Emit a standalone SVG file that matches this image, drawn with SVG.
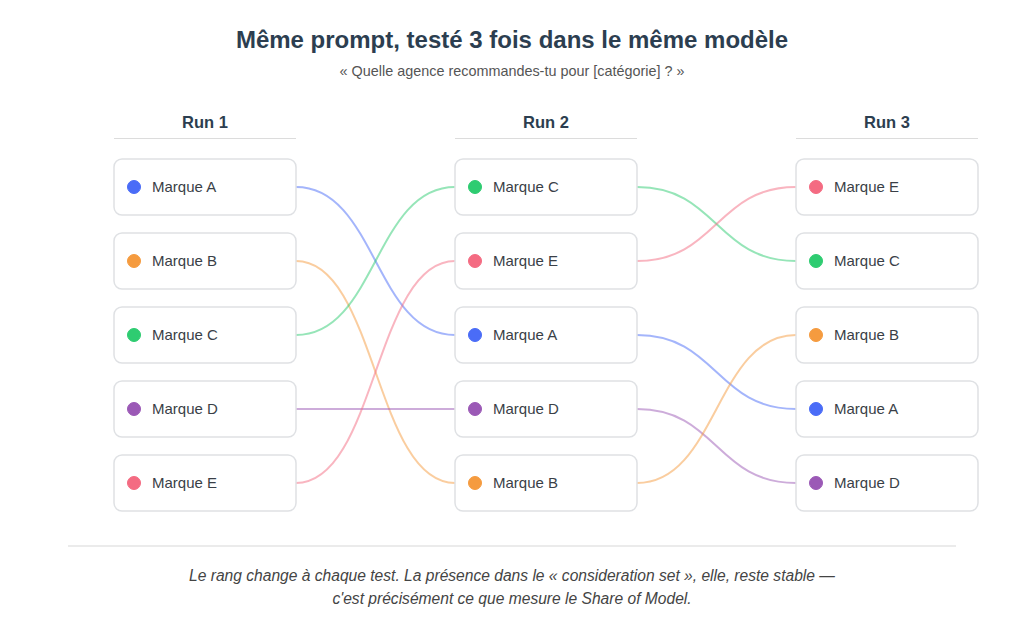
<svg xmlns="http://www.w3.org/2000/svg" width="1024" height="637" viewBox="0 0 1024 637">
<style>
text{font-family:"Liberation Sans",Arial,sans-serif}
.title{font-size:24px;font-weight:bold;fill:#2c3e50;text-anchor:middle}
.sub{font-size:14.4px;fill:#555;text-anchor:middle}
.hdr{font-size:16.5px;font-weight:bold;fill:#2c3e50;text-anchor:middle}
.hl{stroke:#dcdcdc;stroke-width:1.2}
.box{fill:#fff;stroke:#dfe1e4;stroke-width:1.5}
.lbl{font-size:15px;fill:#3a3f47}
.cap{font-size:15.6px;font-style:italic;fill:#444;text-anchor:middle}
.c{fill:none;stroke-width:2;stroke-opacity:0.5}
.a{stroke:#4a6cf7;fill:#4a6cf7}.b{stroke:#f59b3f;fill:#f59b3f}.cc{stroke:#2ecc71;fill:#2ecc71}.d{stroke:#9b59b6;fill:#9b59b6}.e{stroke:#f46b82;fill:#f46b82}
</style>
<rect width="1024" height="637" fill="#fff"/>
<text class="title" x="512" y="48">Même prompt, testé 3 fois dans le même modèle</text>
<text class="sub" x="512" y="76">« Quelle agence recommandes-tu pour [catégorie] ? »</text>
<g id="headers">
<text class="hdr" x="205" y="128">Run 1</text><line class="hl" x1="114" y1="138.5" x2="296" y2="138.5"/>
<text class="hdr" x="546" y="128">Run 2</text><line class="hl" x1="455" y1="138.5" x2="637" y2="138.5"/>
<text class="hdr" x="887" y="128">Run 3</text><line class="hl" x1="796" y1="138.5" x2="978" y2="138.5"/>
</g>
<g id="connectors">
<path class="c a" style="fill:none" d="M296 187 C376 187 375 335 455 335"/>
<path class="c b" style="fill:none" d="M296 261 C376 261 375 483 455 483"/>
<path class="c cc" style="fill:none" d="M296 335 C376 335 375 187 455 187"/>
<path class="c d" style="fill:none" d="M296 409 L455 409"/>
<path class="c e" style="fill:none" d="M296 483 C376 483 375 261 455 261"/>
<path class="c cc" style="fill:none" d="M637 187 C717 187 716 261 796 261"/>
<path class="c e" style="fill:none" d="M637 261 C717 261 716 187 796 187"/>
<path class="c a" style="fill:none" d="M637 335 C717 335 716 409 796 409"/>
<path class="c d" style="fill:none" d="M637 409 C717 409 716 483 796 483"/>
<path class="c b" style="fill:none" d="M637 483 C717 483 716 335 796 335"/>
</g>
<g id="r1-a"><rect class="box" x="114" y="159" width="182" height="56" rx="8"/><circle class="a" cx="134" cy="187" r="6.5"/><text class="lbl" x="152" y="192">Marque A</text></g>
<g id="r1-b"><rect class="box" x="114" y="233" width="182" height="56" rx="8"/><circle class="b" cx="134" cy="261" r="6.5"/><text class="lbl" x="152" y="266">Marque B</text></g>
<g id="r1-c"><rect class="box" x="114" y="307" width="182" height="56" rx="8"/><circle class="cc" cx="134" cy="335" r="6.5"/><text class="lbl" x="152" y="340">Marque C</text></g>
<g id="r1-d"><rect class="box" x="114" y="381" width="182" height="56" rx="8"/><circle class="d" cx="134" cy="409" r="6.5"/><text class="lbl" x="152" y="414">Marque D</text></g>
<g id="r1-e"><rect class="box" x="114" y="455" width="182" height="56" rx="8"/><circle class="e" cx="134" cy="483" r="6.5"/><text class="lbl" x="152" y="488">Marque E</text></g>
<g id="r2-c"><rect class="box" x="455" y="159" width="182" height="56" rx="8"/><circle class="cc" cx="475" cy="187" r="6.5"/><text class="lbl" x="493" y="192">Marque C</text></g>
<g id="r2-e"><rect class="box" x="455" y="233" width="182" height="56" rx="8"/><circle class="e" cx="475" cy="261" r="6.5"/><text class="lbl" x="493" y="266">Marque E</text></g>
<g id="r2-a"><rect class="box" x="455" y="307" width="182" height="56" rx="8"/><circle class="a" cx="475" cy="335" r="6.5"/><text class="lbl" x="493" y="340">Marque A</text></g>
<g id="r2-d"><rect class="box" x="455" y="381" width="182" height="56" rx="8"/><circle class="d" cx="475" cy="409" r="6.5"/><text class="lbl" x="493" y="414">Marque D</text></g>
<g id="r2-b"><rect class="box" x="455" y="455" width="182" height="56" rx="8"/><circle class="b" cx="475" cy="483" r="6.5"/><text class="lbl" x="493" y="488">Marque B</text></g>
<g id="r3-e"><rect class="box" x="796" y="159" width="182" height="56" rx="8"/><circle class="e" cx="816" cy="187" r="6.5"/><text class="lbl" x="834" y="192">Marque E</text></g>
<g id="r3-c"><rect class="box" x="796" y="233" width="182" height="56" rx="8"/><circle class="cc" cx="816" cy="261" r="6.5"/><text class="lbl" x="834" y="266">Marque C</text></g>
<g id="r3-b"><rect class="box" x="796" y="307" width="182" height="56" rx="8"/><circle class="b" cx="816" cy="335" r="6.5"/><text class="lbl" x="834" y="340">Marque B</text></g>
<g id="r3-a"><rect class="box" x="796" y="381" width="182" height="56" rx="8"/><circle class="a" cx="816" cy="409" r="6.5"/><text class="lbl" x="834" y="414">Marque A</text></g>
<g id="r3-d"><rect class="box" x="796" y="455" width="182" height="56" rx="8"/><circle class="d" cx="816" cy="483" r="6.5"/><text class="lbl" x="834" y="488">Marque D</text></g>
<line x1="68" y1="546" x2="956" y2="546" stroke="#e4e4e4" stroke-width="1.5"/>
<text class="cap" x="512" y="581">Le rang change à chaque test. La présence dans le « consideration set », elle, reste stable —</text>
<text class="cap" x="512" y="604">c'est précisément ce que mesure le Share of Model.</text>
</svg>
